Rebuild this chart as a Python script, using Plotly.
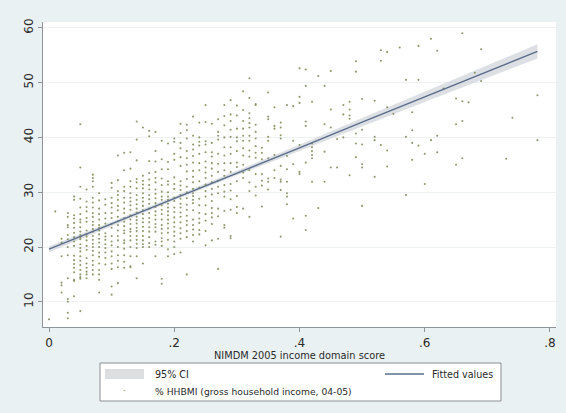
import plotly.graph_objects as go

# ---------------- data ----------------
# scatter points grouped by x (NIMDM 2005 income domain score)
col_x = [0.00, 0.01, 0.02, 0.03, 0.04, 0.05, 0.06, 0.07, 0.08, 0.09,
         0.10, 0.11, 0.12, 0.13, 0.14, 0.15, 0.16, 0.17, 0.18, 0.19,
         0.20, 0.21, 0.22, 0.23, 0.24, 0.25, 0.26, 0.27, 0.28, 0.29,
         0.30, 0.31, 0.32, 0.33, 0.34, 0.35, 0.36, 0.37, 0.38, 0.39,
         0.40, 0.41, 0.42, 0.43, 0.44, 0.45, 0.46, 0.47, 0.48, 0.49,
         0.50, 0.52, 0.53, 0.54, 0.55, 0.56, 0.57, 0.58, 0.59, 0.60,
         0.61, 0.62, 0.63, 0.65, 0.66, 0.67, 0.68, 0.69, 0.73, 0.74, 0.78]
col_y = [
    [6.8],
    [26.5],
    [21.5, 20.8, 18.3, 13.5, 13.0, 11.7],
    [26.2, 25.5, 24.0, 23.6, 22.2, 21.4, 20.0, 18.5, 14.3, 10.5, 10.0, 8.0, 7.0],
    [29.2, 28.6, 25.8, 25.2, 24.4, 23.5, 22.6, 21.8, 21.0, 20.2, 18.4, 17.6, 16.9, 16.2, 15.4, 14.0, 13.8, 11.0],
    [42.4, 34.5, 31.0, 28.8, 27.2, 26.0, 25.0, 24.5, 23.6, 22.8, 22.2, 21.8, 21.4, 20.5, 19.8, 19.2, 18.3, 17.5, 16.7, 15.8, 15.0, 14.5, 14.2, 8.3],
    [30.5, 28.3, 27.3, 26.5, 25.3, 24.6, 23.0, 22.3, 21.9, 21.2, 20.2, 19.5, 18.0, 17.0, 16.2, 15.5, 15.0, 14.3],
    [33.2, 32.6, 32.0, 31.0, 29.0, 28.1, 27.2, 26.2, 25.5, 24.6, 24.0, 23.3, 22.8, 22.0, 21.3, 20.6, 20.0, 19.3, 18.5, 17.5, 16.7, 15.8, 15.0],
    [29.8, 28.5, 27.0, 26.0, 25.0, 24.0, 23.5, 23.0, 22.3, 21.5, 20.8, 20.0, 19.0, 18.2, 17.0, 15.8, 15.0, 14.0, 11.7],
    [28.7, 27.7, 26.2, 25.2, 24.3, 22.5, 21.9, 21.3, 20.5, 19.8, 19.0, 18.0, 16.8],
    [31.7, 30.8, 29.0, 28.0, 27.2, 26.2, 25.3, 24.2, 23.5, 22.0, 21.0, 20.3, 19.2, 18.3, 17.0, 16.0, 12.8, 11.3],
    [36.7, 32.2, 30.2, 29.5, 28.6, 27.5, 26.7, 25.5, 24.7, 24.0, 23.0, 22.0, 21.2, 20.0, 18.5, 17.5, 16.3, 13.4],
    [37.2, 34.0, 31.0, 30.2, 29.0, 28.1, 27.0, 26.2, 25.3, 24.6, 23.8, 23.0, 22.5, 21.2, 20.7, 19.7, 18.5, 17.3, 16.2],
    [37.3, 34.3, 32.0, 31.0, 29.8, 29.0, 28.3, 27.6, 26.8, 25.8, 25.0, 24.2, 23.3, 22.8, 22.0, 21.2, 20.0, 18.3, 16.5, 16.3],
    [42.9, 39.6, 35.8, 32.4, 31.8, 30.7, 29.5, 28.6, 27.8, 27.0, 26.3, 25.5, 24.9, 24.3, 23.5, 22.9, 22.0, 21.3, 20.6, 19.8, 18.3, 14.3],
    [41.8, 33.0, 32.1, 31.4, 30.7, 29.8, 29.0, 28.3, 27.5, 26.7, 26.0, 25.2, 24.5, 23.7, 22.9, 22.0, 21.2, 20.5, 20.0, 17.0],
    [41.2, 40.2, 35.7, 33.5, 32.3, 31.3, 30.5, 29.5, 28.7, 27.9, 27.0, 26.2, 25.3, 24.5, 23.6, 22.8, 21.8, 20.7, 20.0],
    [41.0, 37.5, 35.6, 33.7, 32.6, 31.8, 30.5, 29.7, 28.9, 28.0, 27.3, 26.5, 25.8, 25.0, 24.2, 23.6, 22.8, 21.0, 20.4, 18.3],
    [39.4, 36.0, 34.2, 32.5, 31.3, 30.1, 29.2, 28.6, 27.6, 26.8, 26.0, 25.0, 24.0, 23.3, 22.5, 21.6, 21.0, 20.2, 14.2, 13.3],
    [38.9, 35.5, 34.2, 32.0, 31.4, 30.0, 29.2, 28.6, 27.9, 27.2, 26.5, 25.8, 25.0, 24.3, 23.4, 22.6, 21.3, 19.6, 18.3],
    [39.8, 39.2, 37.0, 35.9, 32.7, 31.5, 30.6, 29.0, 28.4, 27.2, 26.4, 25.4, 24.5, 23.7, 22.8, 22.0, 21.0, 20.0, 18.7],
    [42.5, 40.8, 39.0, 38.0, 36.4, 34.8, 32.0, 31.2, 30.4, 29.5, 28.8, 27.9, 27.2, 26.3, 25.5, 24.5, 23.4, 22.5, 21.5, 19.0],
    [42.3, 41.3, 39.8, 37.5, 36.2, 35.0, 33.8, 32.4, 31.0, 30.0, 28.9, 27.7, 26.8, 25.7, 24.8, 24.0, 22.9, 21.8, 15.0],
    [43.8, 40.3, 38.7, 37.8, 36.6, 35.4, 33.9, 32.8, 31.8, 30.6, 29.8, 29.3, 28.6, 28.0, 26.7, 25.0, 24.0, 23.2, 22.2, 21.0],
    [42.7, 40.0, 39.2, 38.5, 37.0, 35.3, 34.0, 32.0, 30.8, 28.8, 27.6, 26.2, 25.2, 24.4, 23.1, 22.3],
    [45.9, 42.8, 39.3, 38.7, 37.3, 35.6, 34.5, 33.6, 32.6, 31.4, 30.2, 29.2, 27.6, 26.0, 24.8, 22.9, 20.3],
    [42.5, 39.0, 37.3, 36.5, 35.3, 34.3, 33.0, 31.8, 30.6, 29.6, 28.4, 27.1, 26.2, 25.4, 24.2, 21.2],
    [43.3, 41.0, 40.3, 39.6, 37.0, 35.2, 33.7, 32.1, 31.0, 29.8, 27.0, 25.6, 21.5, 16.0],
    [45.9, 43.9, 42.2, 40.0, 38.2, 36.7, 35.3, 34.0, 33.0, 31.3, 30.1, 29.2, 26.6, 24.0, 23.5],
    [46.8, 44.2, 43.0, 41.4, 40.1, 38.2, 37.0, 35.3, 33.7, 31.5, 30.3, 28.7, 26.8, 22.0, 21.6],
    [45.8, 44.0, 41.6, 40.0, 39.3, 37.5, 35.4, 34.6, 32.0, 29.3, 27.3, 26.2],
    [48.4, 45.0, 43.0, 41.6, 40.3, 39.4, 38.0, 36.7, 35.0, 33.6, 32.6, 27.0],
    [50.8, 47.2, 44.4, 43.5, 42.6, 41.8, 40.3, 39.4, 37.6, 36.5, 34.0, 31.8, 30.2, 25.5],
    [46.1, 45.9, 42.3, 41.0, 39.8, 38.4, 37.2, 36.3, 33.3, 31.0, 29.4],
    [38.1, 37.2, 36.0, 33.3, 32.1, 31.2, 27.4],
    [48.2, 43.8, 43.3, 40.1, 39.4, 36.2, 32.5, 31.9, 30.5],
    [45.5, 42.1, 41.6, 36.8, 34.0, 32.6],
    [42.7, 41.8, 40.4, 39.8, 34.8, 32.3, 31.9, 30.4, 21.9],
    [45.9, 36.6, 34.2, 31.9, 29.8, 29.2, 27.8],
    [45.7, 39.4, 35.1, 25.2],
    [52.6, 47.4, 46.3, 38.6, 33.7, 33.3],
    [52.4, 49.4, 42.9, 42.1, 35.4, 25.7, 23.1],
    [46.5, 38.9, 38.2, 37.5, 36.8, 36.2, 31.9],
    [51.2, 27.1],
    [49.4, 42.4, 37.4, 31.9],
    [52.1, 45.1, 41.8, 34.5],
    [39.7, 34.5],
    [45.9, 44.2, 40.0],
    [46.5, 45.1, 44.0, 43.4, 33.1],
    [53.9, 52.0, 40.7, 38.9, 36.4],
    [47.0, 41.4, 38.7, 35.1, 34.5, 27.5],
    [46.7, 40.1, 39.5, 32.8],
    [55.9, 54.0, 38.6],
    [55.6, 45.5, 37.6, 34.7],
    [44.3],
    [56.4],
    [50.5, 40.1, 29.5],
    [44.6, 41.3, 39.0, 35.9],
    [56.7, 50.5, 38.5],
    [37.0, 31.5],
    [58.0, 39.5],
    [55.8, 40.3, 37.3],
    [48.9],
    [47.1, 42.4, 35.0],
    [59.0, 46.6, 43.0, 36.2],
    [46.4],
    [51.8],
    [56.1, 50.3],
    [36.1],
    [43.6],
    [47.7, 39.5],
]

# fitted values and 95% CI band
fit_x = [0.00, 0.10, 0.20, 0.30, 0.40, 0.50, 0.60, 0.70, 0.78]
fit_y = [19.6, 24.2, 28.9, 33.5, 38.1, 42.8, 47.4, 52.0, 55.7]
ci_lo = [19.05, 23.78, 28.55, 33.08, 37.55, 42.08, 46.48, 50.87, 54.40]
ci_hi = [20.15, 24.62, 29.25, 33.92, 38.65, 43.52, 48.32, 53.13, 57.00]

x_ticks = [0, 0.2, 0.4, 0.6, 0.8]
x_tick_labels = ["0", ".2", ".4", ".6", ".8"]
y_ticks = [10, 20, 30, 40, 50, 60]

x_title = "NIMDM 2005 income domain score"
legend_ci = "95% CI"
legend_fit = "Fitted values"
legend_pts = "% HHBMI (gross household income, 04-05)"

# ---------------- build figure ----------------
pts_x = [x for x, ys in zip(col_x, col_y) for _ in ys]
pts_y = [y for ys in col_y for y in ys]

BAND = "rgba(205,211,217,0.7)"
LINE = "#5a6c8a"
DOT = "#7d8858"
FONT = "DejaVu Sans"
TXT = "#2a2a2a"

fig = go.Figure()
fig.add_trace(go.Scatter(x=fit_x, y=ci_lo, mode="lines", line=dict(width=0),
                         hoverinfo="skip", showlegend=False))
fig.add_trace(go.Scatter(x=fit_x, y=ci_hi, mode="lines", line=dict(width=0),
                         fill="tonexty", fillcolor=BAND, name=legend_ci,
                         showlegend=False))
fig.add_trace(go.Scatter(x=pts_x, y=pts_y, mode="markers", name=legend_pts,
                         marker=dict(size=2.1, color=DOT, opacity=0.85,
                                     line=dict(width=0)),
                         showlegend=False))
fig.add_trace(go.Scatter(x=fit_x, y=fit_y, mode="lines", name=legend_fit,
                         line=dict(color=LINE, width=1.4), showlegend=False))

W, H = 566, 413
l, r, t, b = 43, 10, 22, 86
pw, ph = W - l - r, H - t - b
def qx(x):
    return (x - l) / pw
def qy(y):
    return (H - b - y) / ph

shapes = [
    dict(type="rect", xref="paper", yref="paper", x0=qx(100), x1=qx(501),
         y0=qy(401), y1=qy(363), fillcolor="white",
         line=dict(color="#8a8f94", width=1), layer="above"),
    dict(type="rect", xref="paper", yref="paper", x0=qx(105), x1=qx(144),
         y0=qy(379), y1=qy(369), fillcolor="#dcdedf", line=dict(width=0),
         layer="above"),
    dict(type="line", xref="paper", yref="paper", x0=qx(385), x1=qx(424),
         y0=qy(374), y1=qy(374), line=dict(color=LINE, width=1.4),
         layer="above"),
]
annotations = [
    dict(text=legend_ci, xref="paper", yref="paper", x=qx(153), y=qy(374.5),
         xanchor="left", yanchor="middle", showarrow=False,
         font=dict(family=FONT, size=9.6, color=TXT)),
    dict(text=legend_fit, xref="paper", yref="paper", x=qx(495), y=qy(374.5),
         xanchor="right", yanchor="middle", showarrow=False,
         font=dict(family=FONT, size=9.6, color=TXT)),
    dict(text="·", xref="paper", yref="paper", x=qx(124), y=qy(391),
         xanchor="center", yanchor="middle", showarrow=False,
         font=dict(family=FONT, size=9, color=DOT)),
    dict(text=legend_pts, xref="paper", yref="paper", x=qx(153), y=qy(391),
         xanchor="left", yanchor="middle", showarrow=False,
         font=dict(family=FONT, size=9.2, color=TXT)),
]

fig.update_layout(
    width=W, height=H,
    margin=dict(l=l, r=r, t=t, b=b, pad=0),
    paper_bgcolor="#eaf1f3",
    plot_bgcolor="white",
    font=dict(family=FONT, size=12, color=TXT),
    shapes=shapes,
    annotations=annotations,
    showlegend=False,
)
fig.update_xaxes(
    range=[-0.0096, 0.8096], tickvals=x_ticks, ticktext=x_tick_labels,
    showgrid=False, zeroline=False, showline=True, linecolor="#8e9499",
    linewidth=1.2, ticks="outside", ticklen=4, tickcolor="#8e9499",
    tickfont=dict(size=12, color=TXT),
    title=dict(text=x_title, font=dict(size=9.8, color=TXT), standoff=3),
)
fig.update_yaxes(
    range=[5.4, 61.06], tickvals=y_ticks, tickangle=-90,
    showgrid=True, gridcolor="#edf1f2", gridwidth=1, zeroline=False,
    showline=True, linecolor="#8e9499", linewidth=1.2, ticks="outside",
    ticklen=4, tickcolor="#8e9499", tickfont=dict(size=12, color=TXT),
)

fig.write_html("out.html")
